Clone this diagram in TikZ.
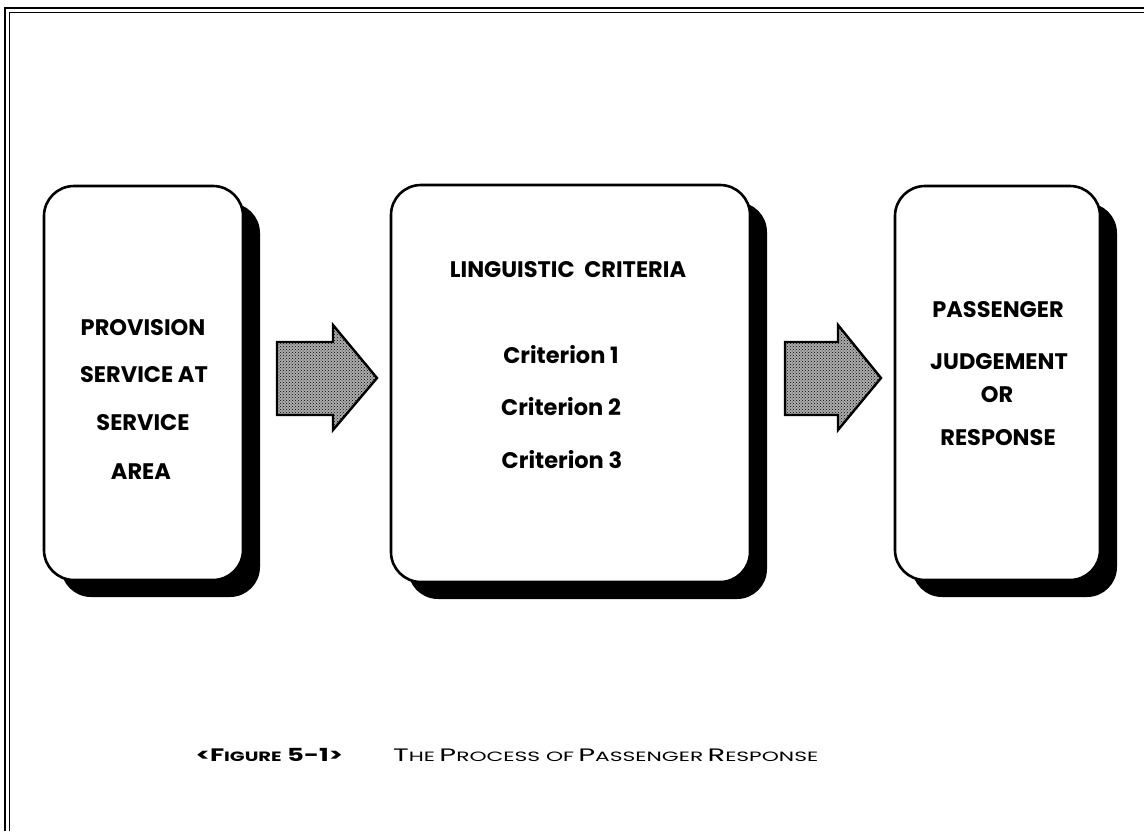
\documentclass[tikz,border=0pt]{standalone}
\usepackage{graphicx}
\usepackage{fontspec}
\setmainfont{Poppins}
\usetikzlibrary{patterns,shadows}

% small caps made by hand: full-size capital, smaller following capitals
\newcommand{\capfull}[1]{{\fontsize{18pt}{21pt}\selectfont #1}}
\newcommand{\capsmall}[1]{{\fontsize{13.5pt}{16pt}\selectfont #1}}

\begin{document}
\begin{tikzpicture}[x=1pt,y=-1pt,
  stage/.style={draw=black, line width=2.6pt, fill=white, rounded corners=30pt,
    drop shadow={shadow xshift=17pt, shadow yshift=-17pt, fill=black, opacity=1}},
  label/.style={font=\bfseries\fontsize{22.5pt}{26pt}\selectfont, inner sep=0pt, anchor=center},
  flow/.style={draw=black, line width=2.4pt, line join=miter,
    preaction={fill=black!32}, pattern=crosshatch dots, pattern color=black},
  frameline/.style={draw=black, line width=1.6pt}]

  % page extent
  \useasboundingbox (0,0) rectangle (1144,831);

  % double frame along the top and left edges
  \draw[frameline] (1144,8) -- (5,8) -- (5,831);
  \draw[frameline] (1144,12.5) -- (9.5,12.5) -- (9.5,831);

  % the three stages
  \path[stage] (44,186) rectangle (243,580);
  \path[stage] (391,185) rectangle (750,582);
  \path[stage] (895,186) rectangle (1100,580);

  % stage 1 text
  \node[label] (p1) at (143,328) {PROVISION};
  \node[label] (p2) at (144,375) {SERVICE AT};
  \node[label] (p3) at (143,423) {SERVICE};
  \node[label] (p4) at (141,472) {AREA};

  % stage 2 text
  \node[label] (c0) at (568,270) {LINGUISTIC\ \ CRITERIA};
  \node[label] (c1) at (561,355) {Criterion 1};
  \node[label] (c2) at (561,407) {Criterion 2};
  \node[label] (c3) at (562,460) {Criterion 3};

  % stage 3 text
  \node[label] (r1) at (998,310) {PASSENGER};
  \node[label] (r2) at (999,362) {JUDGEMENT};
  \node[label] (r3) at (997,395) {OR};
  \node[label] (r4) at (998,438) {RESPONSE};

  % block arrows between the stages
  \path[flow] (277,342) -- (333,342) -- (333,325) -- (377,378) -- (333,430) -- (333,415) -- (277,415) -- cycle;
  \path[flow] (785,342) -- (838,342) -- (838,325) -- (881,378) -- (838,430) -- (838,415) -- (785,415) -- cycle;

  % caption: figure number, then title
  \node[inner sep=0pt, anchor=base east, font=\bfseries] (fig) at (343,761)
    {\resizebox{147pt}{\height}{\capfull{<F}\capsmall{IGURE}\capfull{\ 5-1>}}};
  \node[inner sep=0pt, anchor=base west] (cap) at (393,761)
    {\resizebox{425pt}{\height}{\capfull{T}\capsmall{HE} \capfull{P}\capsmall{ROCESS OF} \capfull{P}\capsmall{ASSENGER} \capfull{R}\capsmall{ESPONSE}}};
\end{tikzpicture}
\end{document}
